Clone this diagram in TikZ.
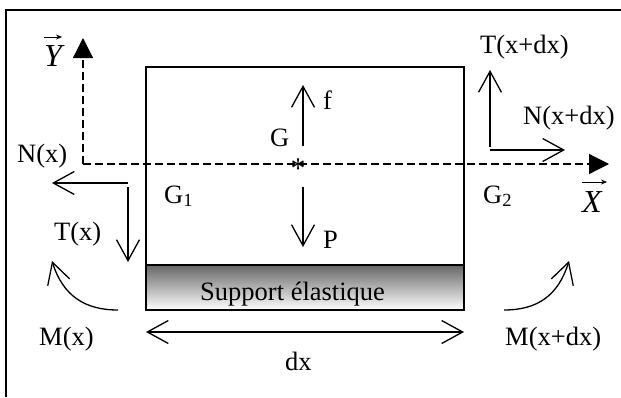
\documentclass[tikz,border=0pt]{standalone}
\usepackage{fontspec}
\setmainfont{Liberation Serif}
\usetikzlibrary{arrows.meta}
\tikzset{
  x=1pt,y=-1pt,
  lab/.style={inner sep=0pt,anchor=base west,font=\fontsize{26.5}{30}\selectfont,text=black},
  vlab/.style={inner sep=0pt,anchor=base west,font=\fontsize{32}{34}\selectfont\itshape,text=black},
  force/.style={line width=1.3pt,-{Straight Barb[length=21pt,width=23pt,line width=1.3pt]}},
  twoway/.style={line width=1.3pt,{Straight Barb[length=21pt,width=23pt,line width=1.3pt]}-{Straight Barb[length=21pt,width=23pt,line width=1.3pt]}},
  axis/.style={line width=1.2pt,dash pattern=on 8pt off 4pt,-{Triangle[length=20pt,width=20pt]}},
  vecbar/.style={line width=0.7pt,-{Stealth[length=6pt,width=5pt]}},
  body/.style={draw,line width=1.2pt},
}
\begin{document}
\begin{tikzpicture}
\useasboundingbox (0,0) rectangle (621,397);
\draw[line width=2pt] (6,397) -- (6,10) -- (621,10);
\shade[top color=black!60,bottom color=white] (146,265) rectangle (464,310);
\draw[body] (146,67) rectangle (464,265);
\draw[body] (146,265) rectangle (464,310);
\coordinate (O) at (83,164);
\coordinate (Xe) at (609,164);
\coordinate (Ye) at (83,38);
\draw[axis] (O) -- (Xe);
\draw[axis] (O) -- (Ye);
\node[lab,anchor=base,font=\fontsize{30}{32}\selectfont] (star) at (298,178) {*};
\coordinate (f0) at (303,146); \coordinate (f1) at (303,85);
\draw[force] (f0) -- (f1);
\coordinate (p0) at (303,187); \coordinate (p1) at (303,247);
\draw[force] (p0) -- (p1);
\coordinate (n0) at (128,183); \coordinate (n1) at (52,183);
\draw[force] (n0) -- (n1);
\coordinate (t0) at (128,187); \coordinate (t1) at (128,262);
\draw[force] (t0) -- (t1);
\coordinate (tt0) at (490,147); \coordinate (tt1) at (490,70);
\draw[force] (tt0) -- (tt1);
\coordinate (nn0) at (490,150); \coordinate (nn1) at (565,150);
\draw[force] (nn0) -- (nn1);
\coordinate (m0) at (118,310); \coordinate (m1) at (52,261);
\draw[force] (m0) .. controls (85,310) and (63,296) .. (m1);
\coordinate (mm0) at (504,310); \coordinate (mm1) at (569,261);
\draw[force] (mm0) .. controls (537,310) and (558,296) .. (mm1);
\coordinate (d0) at (146,332); \coordinate (d1) at (464,332);
\draw[twoway] (d0) -- (d1);
\node[lab] (sup) at (200,300) {Support élastique};
\node[lab] (lG) at (270,146) {G};
\node[lab] (lf) at (323,109) {f};
\node[lab] (lP) at (323,248) {P};
\node[lab] (lG1) at (164,203) {G\textsubscript{1}};
\node[lab] (lG2) at (483,203) {G\textsubscript{2}};
\node[lab] (lN) at (17,162) {N(x)};
\node[lab] (lT) at (54,240) {T(x)};
\node[lab] (lM) at (39,345) {M(x)};
\node[lab] (lNN) at (523,124) {N(x+dx)};
\node[lab] (lTT) at (480,53) {T(x+dx)};
\node[lab] (lMM) at (505,345) {M(x+dx)};
\node[lab] (ldx) at (285,370) {dx};
\node[vlab] (lX) at (582,212) {X};
\node[vlab] (lY) at (44,66) {Y};
\coordinate (vx0) at (582,182); \coordinate (vx1) at (607,182);
\draw[vecbar] (vx0) -- (vx1);
\coordinate (vy0) at (44,37); \coordinate (vy1) at (62,37);
\draw[vecbar] (vy0) -- (vy1);
\end{tikzpicture}
\end{document}
